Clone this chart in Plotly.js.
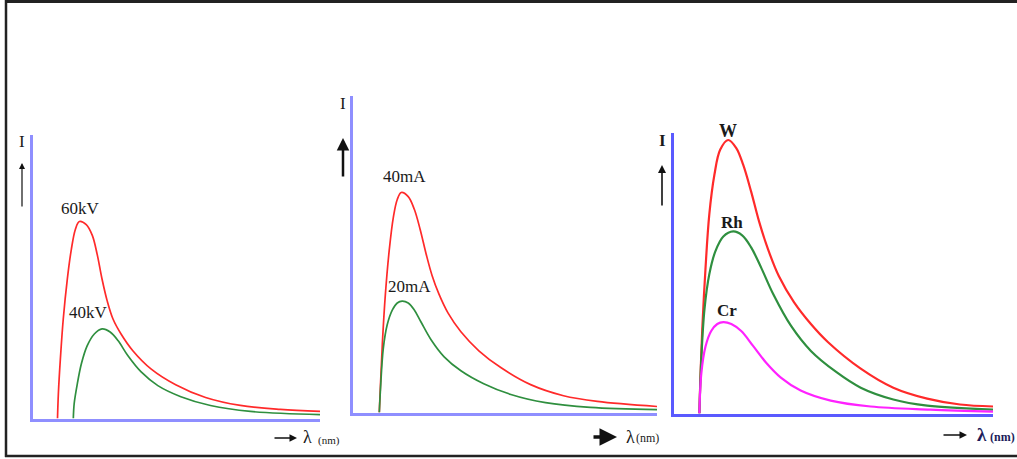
<!DOCTYPE html>
<html>
<head>
<meta charset="utf-8">
<script src="https://cdn.plot.ly/plotly-3.0.1.min.js"></script>
<style>html,body{margin:0;padding:0;background:#fff;}#chart{width:1017px;height:459px;}</style>
</head>
<body>
<div id="chart"></div>
<script>
// Panel 1: voltage dependence (λ, I in arbitrary units 0..10)
const kv60_x = [0.87, 0.90, 0.97, 1.07, 1.21, 1.35, 1.49, 1.63, 1.87, 2.08, 2.25, 2.42, 2.60, 2.80, 3.08, 3.49, 4.12, 4.98, 6.02, 7.23, 8.62, 10.0];
const kv60_y = [0.00, 0.88, 2.11, 3.51, 4.91, 5.96, 6.67, 6.95, 6.84, 6.46, 5.79, 4.91, 4.14, 3.51, 2.98, 2.39, 1.75, 1.19, 0.74, 0.46, 0.32, 0.25];
const kv40_x = [1.42, 1.45, 1.56, 1.70, 1.90, 2.15, 2.42, 2.70, 2.98, 3.32, 3.77, 4.36, 5.16, 6.19, 7.58, 10.0];
const kv40_y = [0.00, 0.53, 1.23, 1.93, 2.56, 2.98, 3.16, 3.05, 2.74, 2.21, 1.65, 1.16, 0.77, 0.46, 0.25, 0.14];

// Panel 2: current dependence
const ma40_x = [0.88, 0.92, 0.98, 1.08, 1.21, 1.34, 1.47, 1.60, 1.83, 2.03, 2.22, 2.42, 2.61, 2.84, 3.14, 3.56, 4.15, 4.87, 5.85, 6.93, 8.04, 10.0];
const ma40_y = [0.00, 0.91, 2.17, 3.74, 5.16, 6.16, 6.73, 6.95, 6.82, 6.42, 5.79, 5.00, 4.34, 3.74, 3.14, 2.55, 1.95, 1.42, 0.88, 0.53, 0.35, 0.19];
const ma20_x = [0.88, 0.92, 1.01, 1.14, 1.31, 1.47, 1.63, 1.83, 2.03, 2.25, 2.58, 3.01, 3.56, 4.31, 5.20, 6.34, 7.81, 10.0];
const ma20_y = [0.00, 0.75, 2.01, 2.77, 3.24, 3.46, 3.52, 3.46, 3.24, 2.86, 2.30, 1.76, 1.32, 0.91, 0.57, 0.31, 0.16, 0.09];

// Panel 3: target material dependence
const w_x  = [0.81, 0.84, 0.90, 1.00, 1.12, 1.28, 1.46, 1.71, 1.96, 2.18, 2.43, 2.68, 2.96, 3.30, 3.77, 4.30, 4.83, 5.86, 6.88, 7.94, 8.97, 10.0];
const w_y  = [0.00, 1.24, 3.01, 5.14, 7.09, 8.51, 9.40, 9.75, 9.47, 8.87, 7.91, 6.84, 5.85, 4.89, 3.97, 3.19, 2.55, 1.60, 0.92, 0.53, 0.32, 0.25];
const rh_x = [0.81, 0.87, 0.97, 1.12, 1.31, 1.56, 1.87, 2.15, 2.43, 2.74, 3.12, 3.68, 4.30, 5.08, 5.86, 6.88, 7.94, 10.0];
const rh_y = [0.00, 1.95, 3.72, 4.96, 5.78, 6.31, 6.49, 6.35, 5.92, 5.21, 4.26, 3.12, 2.23, 1.49, 0.92, 0.50, 0.28, 0.14];
const cr_x = [0.81, 0.87, 1.00, 1.18, 1.37, 1.56, 1.81, 2.12, 2.49, 2.90, 3.36, 3.98, 4.92, 6.17, 8.04, 10.0];
const cr_y = [0.00, 1.42, 2.38, 2.94, 3.19, 3.26, 3.19, 2.94, 2.41, 1.81, 1.28, 0.82, 0.46, 0.25, 0.14, 0.07];

const labels1 = ["60kV", "40kV"];
const labels2 = ["40mA", "20mA"];
const labels3 = ["W", "Rh", "Cr"];
const yLabel = "I";
const xLabel = "λ";
const xUnit = "(nm)";

const W = 1017, H = 459;
const px = v => v / W;
const py = v => 1 - v / H;

function line(x, y, color, width, xa, ya) {
  return {x: x, y: y, xaxis: xa, yaxis: ya, type: 'scatter', mode: 'lines',
    line: {color: color, width: width, shape: 'spline', smoothing: 1}, hoverinfo: 'skip'};
}

const RED = '#ff2a2a', GREEN = '#2f8f3f', MAG = '#ff22ff';
const data = [
  line(kv60_x, kv60_y, RED, 1.7, 'x', 'y'),
  line(kv40_x, kv40_y, GREEN, 1.7, 'x', 'y'),
  line(ma40_x, ma40_y, RED, 1.7, 'x2', 'y2'),
  line(ma20_x, ma20_y, GREEN, 1.7, 'x2', 'y2'),
  line(w_x, w_y, RED, 2.2, 'x3', 'y3'),
  line(rh_x, rh_y, GREEN, 2.2, 'x3', 'y3'),
  line(cr_x, cr_y, MAG, 2.2, 'x3', 'y3')
];

function ax(domain, color, anchor) {
  return {domain: domain, range: [0, 10], showgrid: false, zeroline: false,
    showticklabels: false, ticks: '', showline: true, linecolor: color, linewidth: 3,
    anchor: anchor, fixedrange: true};
}
const AX1 = '#8f8fff', AX3 = '#5a5aff';

const serif = 'Liberation Serif, DejaVu Serif, serif';
function txt(x, y, t, size, bold, color) {
  return {xref: 'paper', yref: 'paper', x: px(x), y: py(y), text: bold ? '<b>' + t + '</b>' : t,
    showarrow: false, xanchor: 'center', yanchor: 'middle',
    font: {family: serif, size: size, color: color || '#1a1a1a'}};
}
function arrow(hx, hy, dx, dy, w, head) {
  return {xref: 'paper', yref: 'paper', x: px(hx), y: py(hy), ax: dx, ay: dy, text: '',
    showarrow: true, arrowhead: head, arrowsize: 1, arrowwidth: w, arrowcolor: '#111'};
}

const annotations = [
  // panel 1
  txt(22, 141, yLabel, 17), arrow(22, 163, 0, 45, 1.2, 2),
  txt(80, 208, labels1[0], 17), txt(88, 312, labels1[1], 17),
  arrow(297, 438, -24, 0, 1.5, 2), txt(307, 437, xLabel, 18), txt(329, 440, xUnit, 11),
  // panel 2
  txt(343, 103, yLabel, 17), arrow(343, 138, 0, 40, 2.5, 2),
  txt(404, 177, labels2[0], 17), txt(409, 286, labels2[1], 17),
  arrow(617, 437, -25, 0, 3.5, 2), txt(630, 437, xLabel, 18), txt(647, 438, xUnit, 12),
  // panel 3
  txt(662, 140, yLabel, 17, true), arrow(662, 165, 0, 42, 1.6, 2),
  txt(728, 131, labels3[0], 18, true), txt(732, 222, labels3[1], 17, true), txt(727, 310, labels3[2], 17, true),
  arrow(967, 435, -25, 0, 1.5, 2), txt(982, 434, xLabel, 19, true, '#1c1c5a'), txt(1002, 437, xUnit, 12, true, '#1c1c5a')
];

const frame = [
  {type: 'line', xref: 'paper', yref: 'paper', x0: px(5), x1: px(1017), y0: py(1.5), y1: py(1.5), line: {color: '#222', width: 3}},
  {type: 'line', xref: 'paper', yref: 'paper', x0: px(6), x1: px(6), y0: py(0), y1: py(457), line: {color: '#222', width: 2.5}},
  {type: 'line', xref: 'paper', yref: 'paper', x0: px(5), x1: px(1017), y0: py(456), y1: py(456), line: {color: '#222', width: 2.5}}
];

const layout = {
  width: W, height: H, margin: {l: 0, r: 0, t: 0, b: 0}, showlegend: false,
  paper_bgcolor: '#fff', plot_bgcolor: 'rgba(0,0,0,0)',
  xaxis:  ax([px(32.5), px(320)], AX1, 'y'),
  yaxis:  ax([py(418.5), py(135)], AX1, 'x'),
  xaxis2: ax([px(352.5), px(657)], AX1, 'y2'),
  yaxis2: ax([py(412.5), py(96)], AX1, 'x2'),
  xaxis3: ax([px(673.5), px(993)], AX3, 'y3'),
  yaxis3: ax([py(413.5), py(133)], AX3, 'x3'),
  annotations: annotations, shapes: frame
};

Plotly.newPlot('chart', data, layout, {staticPlot: true, displayModeBar: false});
</script>
</body>
</html>
